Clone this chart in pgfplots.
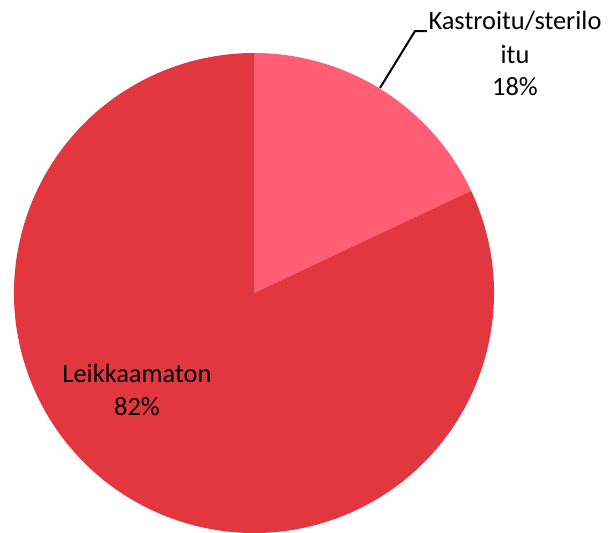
\documentclass[border=0pt]{standalone}
\usepackage{fontspec}
\setmainfont{Carlito}
\usepackage{pgfplots}
\pgfplotsset{compat=1.18}
\usepackage{pgfplotstable}

\definecolor{slicea}{RGB}{255,94,116}
\definecolor{sliceb}{RGB}{226,55,63}

\pgfplotstableread{
label value
Kastroitu 18
Leikkaamaton 82
}\piedata

\pgfplotstablegetelem{0}{value}\of\piedata
\pgfmathsetmacro\angA{90-\pgfplotsretval*3.6}
\pgfplotstablegetelem{1}{value}\of\piedata
\pgfmathsetmacro\angB{\angA-\pgfplotsretval*3.6}

\begin{document}
\begin{tikzpicture}[lbl/.style={anchor=base, font=\fontsize{26.5}{33}\selectfont}]
\begin{axis}[
  x=1bp, y=1bp,
  xmin=0, xmax=612, ymin=0, ymax=533,
  hide axis, clip=false,
  anchor=origin, at={(0,0)},
]
% slices, clockwise from 12 o'clock
\fill[slicea] (axis cs:254,240) -- ++(90:240bp) arc[start angle=90, end angle=\angA, radius=240bp] -- cycle;
\fill[sliceb] (axis cs:254,240) -- ++(\angA:240bp) arc[start angle=\angA, end angle=\angB, radius=240bp] -- cycle;
% labels
\node[lbl] at (axis cs:515,504) {Kastroitu/sterilo};
\node[lbl] at (axis cs:515,470) {itu};
\node[lbl] at (axis cs:515,438) {18\%};
\node[lbl] at (axis cs:137,151) {Leikkaamaton};
\node[lbl] at (axis cs:137,118) {82\%};
\draw[line width=2bp] (axis cs:380,445) -- (axis cs:415,502) -- (axis cs:427,502);
\end{axis}
\pgfresetboundingbox
\path (0,0) rectangle (612bp,533bp);
\end{tikzpicture}
\end{document}
